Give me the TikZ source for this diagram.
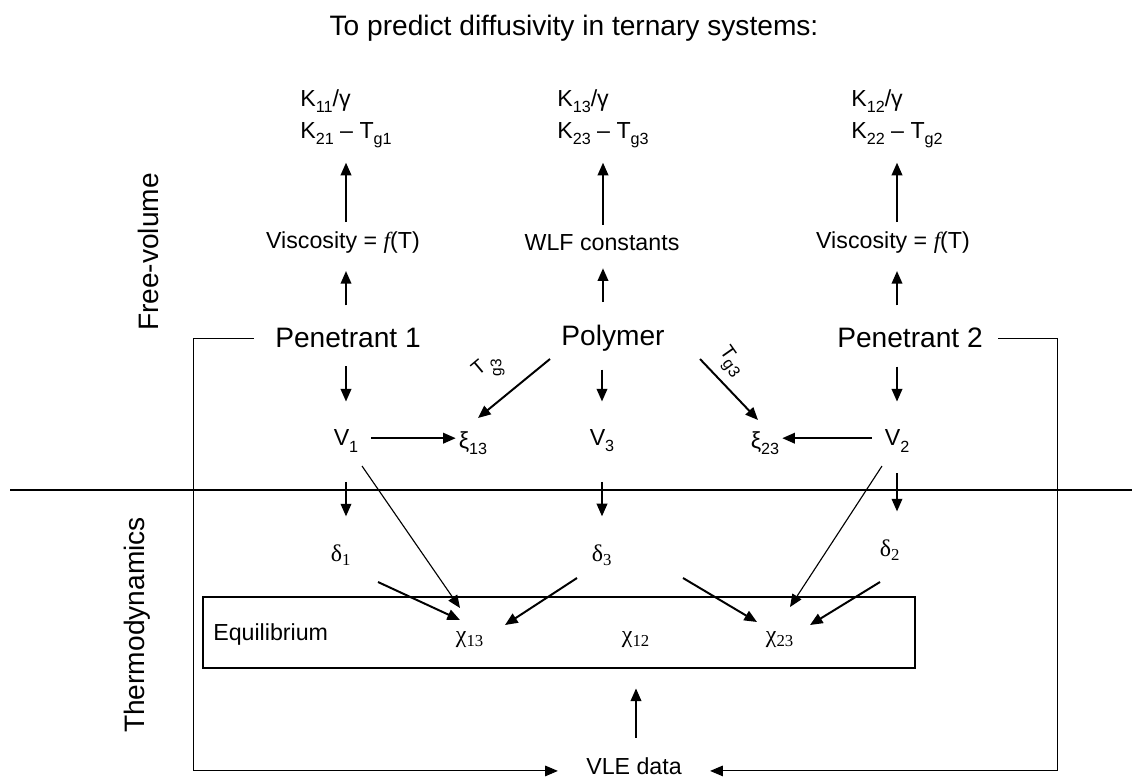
\documentclass[tikz,border=0pt]{standalone}
\usepackage{fontspec}
\usepackage{tikz}
\setmainfont{Liberation Sans}
\newfontfamily\serifgreek{Liberation Serif}
\usetikzlibrary{arrows.meta}

\newcommand{\lo}[1]{\raisebox{-0.5ex}{\fontsize{11.5}{12}\selectfont #1}}

\begin{document}
\begin{tikzpicture}[x=0.025cm, y=-0.025cm,
    txt/.style={inner sep=0pt, font=\fontsize{16.5}{23}\selectfont},
    gr/.style={inner sep=0pt, font=\fontsize{17}{23}\serifgreek},
    big/.style={inner sep=0pt, font=\fontsize{20}{24}\selectfont},
    arr/.style={line width=1.4pt, -{Triangle[length=9pt, width=7.5pt]}},
    thin arr/.style={line width=0.8pt, -{Triangle[length=9pt, width=7.5pt]}},
    frame/.style={line width=0.7pt}]

  \useasboundingbox (0,0) rectangle (1132,778);

  % title and side labels
  \node[inner sep=0pt, font=\fontsize{20}{24}\selectfont] (title) at (574,28)
    {To predict diffusivity in ternary systems:};
  \node[big, rotate=90] (freevol) at (148,252) {Free-volume};
  \node[big, rotate=90] (thermo) at (137,625) {Thermodynamics};

  % free-volume part
  \node[txt, align=left] (k1) at (346,119) {K\lo{11}/γ\\K\lo{21} – T\lo{g1}};
  \node[txt, align=left] (k3) at (603,119) {K\lo{13}/γ\\K\lo{23} – T\lo{g3}};
  \node[txt, align=left] (k2) at (897,119) {K\lo{12}/γ\\K\lo{22} – T\lo{g2}};

  \node[txt] (vis1) at (343,243) {Viscosity = {\serifgreek\itshape f}(T)};
  \node[txt] (wlf) at (602,243) {WLF constants};
  \node[txt] (vis2) at (893,243) {Viscosity = {\serifgreek\itshape f}(T)};

  \node[big] (pen1) at (348,338) {Penetrant 1};
  \node[big] (poly) at (613,338) {Polymer};
  \node[big] (pen2) at (910,338) {Penetrant 2};

  \node[txt] (v1) at (346,441) {V\lo{1}};
  \node[txt] (xi13) at (473,443) {ξ\lo{13}};
  \node[txt] (v3) at (602,441) {V\lo{3}};
  \node[txt] (xi23) at (765,443) {ξ\lo{23}};
  \node[txt] (v2) at (897,441) {V\lo{2}};

  \node[txt, font=\fontsize{14}{16}\selectfont] (tgl) at (487,367)
    {\rotatebox{40}{T}\,\rotatebox{90}{\fontsize{11}{12}\selectfont g3}};
  \node[txt, font=\fontsize{14}{16}\selectfont, rotate=-55] (tgr) at (730,362) {T\lo{g3}};

  % thermodynamics part
  \coordinate (divl) at (10,490);
  \coordinate (divr) at (1132,490);
  \draw[line width=1pt] (divl) -- (divr);

  \node[gr] (d1) at (341,555) {δ\textsubscript{1}};
  \node[gr] (d3) at (602,555) {δ\textsubscript{3}};
  \node[gr] (d2) at (890,550) {δ\textsubscript{2}};

  \node[draw, line width=1pt, minimum width=17.8cm, minimum height=1.775cm] (eqbox) at (559,632.5) {};
  \node[txt, anchor=west] (eq) at (213,634) {Equilibrium};
  \node[gr] (c13) at (470,640) {χ\textsubscript{13}};
  \node[gr] (c12) at (636,640) {χ\textsubscript{12}};
  \node[gr] (c23) at (780,640) {χ\textsubscript{23}};

  \node[txt] (vle) at (634,766) {VLE data};
  \coordinate (lcorner) at (193,341);
  \coordinate (rcorner) at (1057,341);

  % arrows up
  \draw[arr, shorten <=7pt, shorten >=10pt] (vis1.north -| k1) -- (k1.south);
  \draw[arr, shorten <=7pt, shorten >=10pt] (wlf.north -| k3) -- (k3.south);
  \draw[arr, shorten <=7pt, shorten >=10pt] (vis2.north -| k2) -- (k2.south);
  \draw[arr, shorten <=16pt, shorten >=12pt] (pen1.north -| k1) -- (vis1.south -| k1);
  \draw[arr, shorten <=16pt, shorten >=12pt] (poly.north -| k3) -- (wlf.south -| k3);
  \draw[arr, shorten <=16pt, shorten >=12pt] (pen2.north -| k2) -- (vis2.south -| k2);

  % arrows down
  \draw[arr, shorten <=13pt, shorten >=20pt] (pen1.south -| v1) -- (v1.north);
  \draw[arr, shorten <=13pt, shorten >=20pt] (poly.south -| v3) -- (v3.north);
  \draw[arr, shorten <=13pt, shorten >=20pt] (pen2.south -| v2) -- (v2.north);
  \draw[arr, shorten <=9pt, shorten >=2pt] ([yshift=2pt]v1.east) -- ([yshift=2pt]v1.east -| xi13.west);
  \draw[arr, shorten <=9pt, shorten >=2pt] ([yshift=2pt]v2.west) -- ([yshift=2pt]v2.west -| xi23.east);
  \draw[arr] ([shift={(-63,21)}]poly.center) -- ([shift={(5,-25)}]xi13.center);
  \draw[arr] ([shift={(87,21)}]poly.center) -- ([shift={(-7,-23)}]xi23.center);

  \draw[arr, shorten <=21pt, shorten >=20pt] (v1.south) -- (d1.north -| v1);
  \draw[arr, shorten <=21pt, shorten >=20pt] (v3.south) -- (d3.north);
  \draw[arr, shorten <=15pt, shorten >=20pt] (v2.south) -- (d2.north -| v2);

  \draw[thin arr] ([shift={(16,25)}]v1.center) -- ([shift={(-10,-32)}]c13.center);
  \draw[arr] ([shift={(37,27)}]d1.center) -- ([shift={(-10,-20)}]c13.center);
  \draw[arr] ([shift={(-25,23)}]d3.center) -- ([shift={(35,-15)}]c13.center);
  \draw[arr] ([shift={(81,23)}]d3.center) -- ([shift={(-23,-18)}]c23.center);
  \draw[thin arr] ([shift={(-15,25)}]v2.center) -- ([shift={(10,-33)}]c23.center);
  \draw[arr] ([shift={(-10,32)}]d2.center) -- ([shift={(30,-15)}]c23.center);

  % VLE data
  \draw[arr, shorten <=14pt, shorten >=14pt] (vle.north -| c12) -- (eqbox.south -| c12);
  \draw[frame, -{Triangle[length=9pt, width=7.5pt]}, shorten <=15pt, shorten >=20pt]
    (pen1.west) -- (pen1.west -| lcorner) |- ([yshift=-3.5pt]vle.west);
  \draw[frame, -{Triangle[length=9pt, width=7.5pt]}, shorten <=11pt, shorten >=20pt]
    (pen2.east) -- (pen2.east -| rcorner) |- ([yshift=-3.5pt]vle.east);
\end{tikzpicture}
\end{document}
